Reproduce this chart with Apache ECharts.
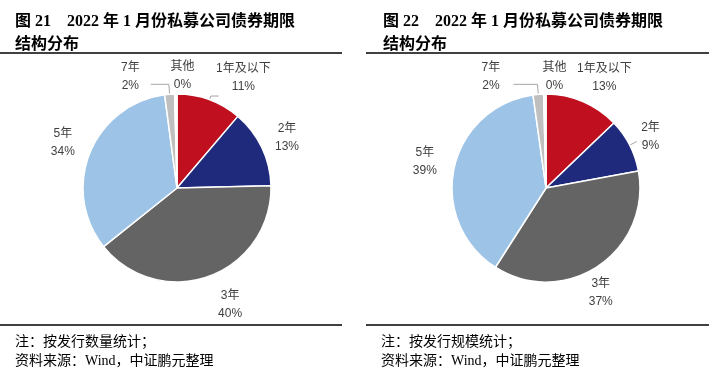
<!DOCTYPE html>
<html><head><meta charset="utf-8">
<script src="https://cdn.jsdelivr.net/npm/echarts@6/dist/echarts.min.js"></script>
<style>html,body{margin:0;padding:0;background:#fff}#c{width:712px;height:372px}</style>
</head><body><div id="c"></div>
<script>
// Data
var categories = ['1年及以下', '2年', '3年', '5年', '7年', '其他'];
var countShare = [11.2, 13.4, 39.6, 33.6, 1.7, 0.4];   // 按发行数量 (%)
var scaleShare = [12.8, 9.2, 36.8, 38.6, 1.8, 0.4];    // 按发行规模 (%)
var titles = ['图 21\u30002022 年 1 月份私募公司债券期限\n结构分布', '图 22\u30002022 年 1 月份私募公司债券期限\n结构分布'];
var notes = ['注：按发行数量统计；\n资料来源：Wind，中证鹏元整理', '注：按发行规模统计；\n资料来源：Wind，中证鹏元整理'];

var colors = ['#C00F1E', '#1F2A7C', '#646464', '#9DC3E6', '#BFBFBF', '#FFFFFF'];
var labelOffsets = [
  [[24, 5], [-1, 3], [11, 1], [0, 1], [-37, 11], [7, 11]],
  [[10, 3], [-5, 5], [-14, 3], [-1, 0], [-45, 11], [10, 12]]
];
// leader lines: [dataIndex, labelLine length, length2]
var leaders = [
  [[0, 4, 8], [4, 10, 18]],
  [[1, 8, 0], [4, 10, 24]]
];
var centers = [[177, 188], [546, 188]];
var textFont = 'Arial, "Liberation Sans", "Noto Sans CJK SC", sans-serif';

function buildSeries(values, idx) {
  var mainData = values.map(function (v, i) {
    return { name: categories[i], value: v, itemStyle: { color: colors[i] } };
  });
  leaders[idx].forEach(function (l) {
    var d = mainData[l[0]];
    d.label = { show: true, position: 'outside', formatter: ' ', fontSize: 2 };
    d.labelLine = { show: true, length: l[1], length2: l[2], lineStyle: { color: '#A6A6A6', width: 1 } };
  });
  var ringData = values.map(function (v, i) {
    return {
      name: categories[i], value: v,
      label: { offset: labelOffsets[idx][i] }
    };
  });
  return [{
    type: 'pie', center: centers[idx], radius: [0, 94], startAngle: 90, clockwise: true,
    avoidLabelOverlap: false, silent: true, animation: false,
    itemStyle: { borderColor: '#fff', borderWidth: 1.5 },
    label: { show: false },
    labelLine: { show: false },
    labelLayout: { hideOverlap: false },
    data: mainData
  }, {
    type: 'pie', center: centers[idx], radius: [112, 128], startAngle: 90, clockwise: true,
    avoidLabelOverlap: false, silent: true, animation: false,
    itemStyle: { color: 'rgba(0,0,0,0)' },
    label: {
      show: true, position: 'inside', overflow: 'none', rotate: 0,
      color: '#404040', fontSize: 12, lineHeight: 18, fontFamily: textFont,
      formatter: function (p) { return p.name + '\n' + Math.round(p.value) + '%'; }
    },
    labelLine: { show: false },
    labelLayout: { hideOverlap: false },
    data: ringData
  }];
}

var chart = echarts.init(document.getElementById('c'), null, { renderer: 'canvas' });
var serifFont = '"Liberation Serif", "Noto Sans CJK SC", serif';
var option = {
  backgroundColor: '#fff',
  animation: false,
  title: [
    { text: titles[0], left: 10, top: 5, textStyle: { fontSize: 16, lineHeight: 23, fontWeight: 'bold', color: '#000', fontFamily: serifFont } },
    { text: titles[1], left: 378, top: 5, textStyle: { fontSize: 16, lineHeight: 23, fontWeight: 'bold', color: '#000', fontFamily: serifFont } },
    { text: notes[0], left: 10, top: 328, textStyle: { fontSize: 14, lineHeight: 19, fontWeight: 'normal', color: '#000', fontFamily: serifFont } },
    { text: notes[1], left: 376, top: 328, textStyle: { fontSize: 14, lineHeight: 19, fontWeight: 'normal', color: '#000', fontFamily: serifFont } }
  ],
  graphic: [
    { type: 'line', shape: { x1: 0, y1: 53, x2: 342, y2: 53 }, style: { stroke: '#000', lineWidth: 1.5 } },
    { type: 'line', shape: { x1: 366, y1: 53, x2: 709, y2: 53 }, style: { stroke: '#000', lineWidth: 1.5 } },
    { type: 'line', shape: { x1: 0, y1: 325, x2: 342, y2: 325 }, style: { stroke: '#000', lineWidth: 1.5 } },
    { type: 'line', shape: { x1: 366, y1: 325, x2: 709, y2: 325 }, style: { stroke: '#000', lineWidth: 1.5 } }
  ],
  series: buildSeries(countShare, 0).concat(buildSeries(scaleShare, 1))
};
chart.setOption(option);
</script>
</body></html>
